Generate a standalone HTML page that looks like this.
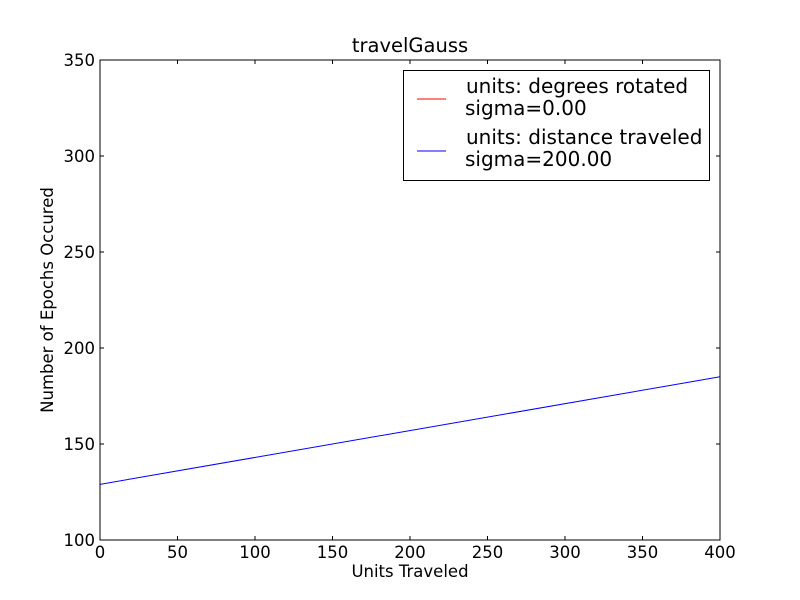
<!DOCTYPE html>
<html><head><meta charset="utf-8"><style>
html,body{margin:0;padding:0;background:#fff;overflow:hidden;width:800px;height:600px;}
svg{display:block;}
svg text{font-family:"DejaVu Sans","Liberation Sans",sans-serif;fill:#000;}
</style></head><body>
<svg id="chart" width="800" height="600" viewBox="0 0 800 600" xmlns="http://www.w3.org/2000/svg">
<rect width="800" height="600" fill="#fff"/>
<defs><clipPath id="plotclip"><rect x="100" y="60" width="620" height="480"/></clipPath></defs>
<g id="marks" clip-path="url(#plotclip)"></g>
<rect x="100" y="60" width="620" height="480" fill="none" stroke="#000" stroke-width="1"/>
<g id="ticks"></g>
<text x="410" y="52" text-anchor="middle" font-size="19.5">travelGauss</text>
<text x="410" y="577" text-anchor="middle" font-size="16.5">Units Traveled</text>
<text transform="translate(53,300) rotate(-90)" text-anchor="middle" font-size="16.5">Number of Epochs Occured</text>
<g>
<rect x="403.5" y="70.5" width="306" height="110" fill="#fff" stroke="#000"/>
<line x1="417" y1="99" x2="446" y2="99" stroke="#ff0000"/>
<text x="465" font-size="20"><tspan x="466" y="93">units: degrees rotated</tspan><tspan x="465" y="115">sigma=0.00</tspan></text>
<line x1="417" y1="151" x2="446" y2="151" stroke="#0000ff"/>
<text x="465" font-size="20"><tspan x="466" y="144">units: distance traveled</tspan><tspan x="465" y="166">sigma=200.00</tspan></text>
</g>
</svg>
<script>
const xTicks=[0,50,100,150,200,250,300,350,400];
const yTicks=[100,150,200,250,300,350];
const seriesX=[0,400];
const distanceValues=[129,185];
const degreesValues=[0,0];
const X0=100,X1=720,Y0=540,Y1=60;
const sx=v=>X0+(v-0)/(400-0)*(X1-X0);
const sy=v=>Y0-(v-100)/(350-100)*(Y0-Y1);
const NS="http://www.w3.org/2000/svg";
const ticks=document.getElementById('ticks');
const marks=document.getElementById('marks');
function mk(tag,attrs,parent){const e=document.createElementNS(NS,tag);for(const k in attrs)e.setAttribute(k,attrs[k]);parent.appendChild(e);return e;}
xTicks.forEach(v=>{const x=sx(v);
 const a=mk('line',{x1:x,y1:540,x2:x,y2:536,stroke:'#000'},ticks);
 
 
 const b=mk('line',{x1:x,y1:60,x2:x,y2:64,stroke:'#000'},ticks);
 
 
 const t=mk('text',{x:x,y:558,'text-anchor':'middle','font-size':16.5},ticks);t.textContent=v;
 
 
});
yTicks.forEach(v=>{const y=sy(v);
 const a=mk('line',{x1:100,y1:y,x2:104,y2:y,stroke:'#000'},ticks);
 
 
 const b=mk('line',{x1:720,y1:y,x2:716,y2:y,stroke:'#000'},ticks);
 
 
 const t=mk('text',{x:95,y:y+6,'text-anchor':'end','font-size':16.5},ticks);t.textContent=v;
 
 
});
function pts(vals){return seriesX.map((x,i)=>sx(x)+','+sy(vals[i])).join(' ');}
const red=mk('polyline',{points:pts(degreesValues),fill:'none',stroke:'#ff0000'},marks);


const blue=mk('polyline',{points:pts(distanceValues),fill:'none',stroke:'#0000ff'},marks);


</script>
</body></html>
